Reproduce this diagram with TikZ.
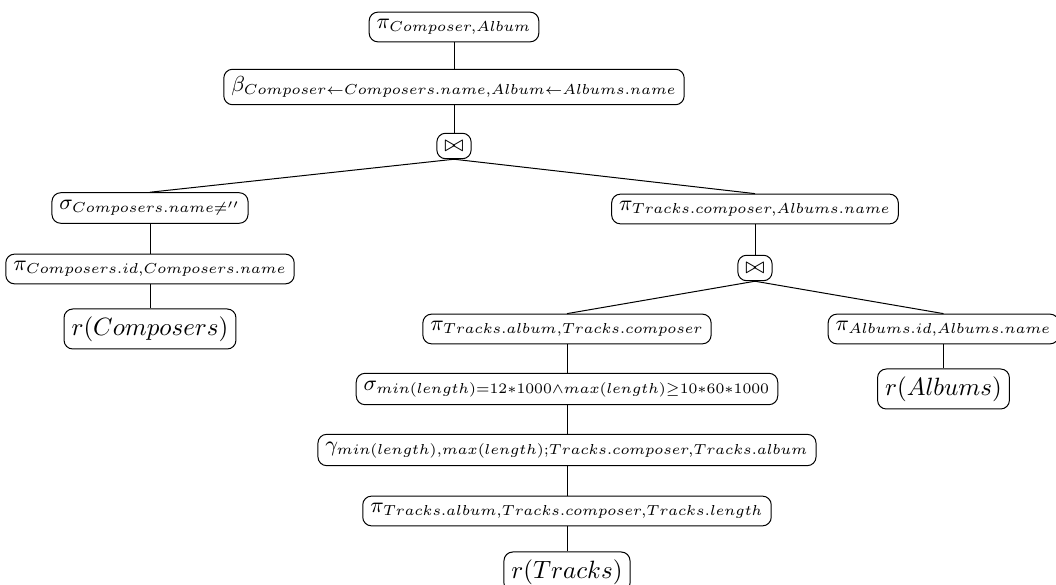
\documentclass[tikz,border=0pt]{standalone}
\usepackage{amsmath,amssymb,graphicx}
% operator labels are set slightly smaller than relation labels
\newcommand\opm[1]{\scalebox{0.965}{$#1$}}
\begin{document}
\begin{tikzpicture}[x=0.4pt,y=-0.4pt,
  op/.style={draw,rounded corners=3.5pt,inner sep=3pt,fill=white,font=\small},
  rel/.style={draw,rounded corners=3.5pt,inner sep=3pt,fill=white},
  edge/.style={draw,line width=0.4pt}]
\useasboundingbox (0,0) rectangle (1056,585);
% root projection and renaming
\node[op] (proj) at (454,27) {\opm{\pi_{Composer,Album}}};
\node[op] (ren) at (454,87) {\opm{\beta_{Composer\leftarrow Composers.name,Album\leftarrow Albums.name}}};
\node[op] (join1) at (454,146) {$\bowtie$};
% left branch: composers
\node[op] (selc) at (150,208) {\opm{\sigma_{Composers.name\neq''}}};
\node[op] (projc) at (150,269) {\opm{\pi_{Composers.id,Composers.name}}};
\node[rel] (relc) at (150,329) {$r(Composers)$};
% right branch
\node[op] (projtc) at (755,209) {\opm{\pi_{Tracks.composer,Albums.name}}};
\node[op] (join2) at (755,268) {$\bowtie$};
\node[op] (projta) at (567,329) {\opm{\pi_{Tracks.album,Tracks.composer}}};
\node[op] (sell) at (567,389) {\opm{\sigma_{min(length)=12*1000\wedge max(length)\geq 10*60*1000}}};
\node[op] (agg) at (567,450) {\opm{\gamma_{min(length),max(length);Tracks.composer,Tracks.album}}};
\node[op] (projtl) at (567,511) {\opm{\pi_{Tracks.album,Tracks.composer,Tracks.length}}};
\node[rel] (relt) at (567,572) {$r(Tracks)$};
\node[op] (proja) at (943.5,329) {\opm{\pi_{Albums.id,Albums.name}}};
\node[rel] (rela) at (943.5,389) {$r(Albums)$};
% edges from each parent down to its children
\draw[edge] (proj.south) -- (ren.north);
\draw[edge] (ren.south) -- (join1.north);
\draw[edge] (join1.south) -- (selc.north);
\draw[edge] (join1.south) -- (projtc.north);
\draw[edge] (selc.south) -- (projc.north);
\draw[edge] (projc.south) -- (relc.north);
\draw[edge] (projtc.south) -- (join2.north);
\draw[edge] (join2.south) -- (projta.north);
\draw[edge] (join2.south) -- (proja.north);
\draw[edge] (projta.south) -- (sell.north);
\draw[edge] (sell.south) -- (agg.north);
\draw[edge] (agg.south) -- (projtl.north);
\draw[edge] (projtl.south) -- (relt.north);
\draw[edge] (proja.south) -- (rela.north);
\end{tikzpicture}
\end{document}
